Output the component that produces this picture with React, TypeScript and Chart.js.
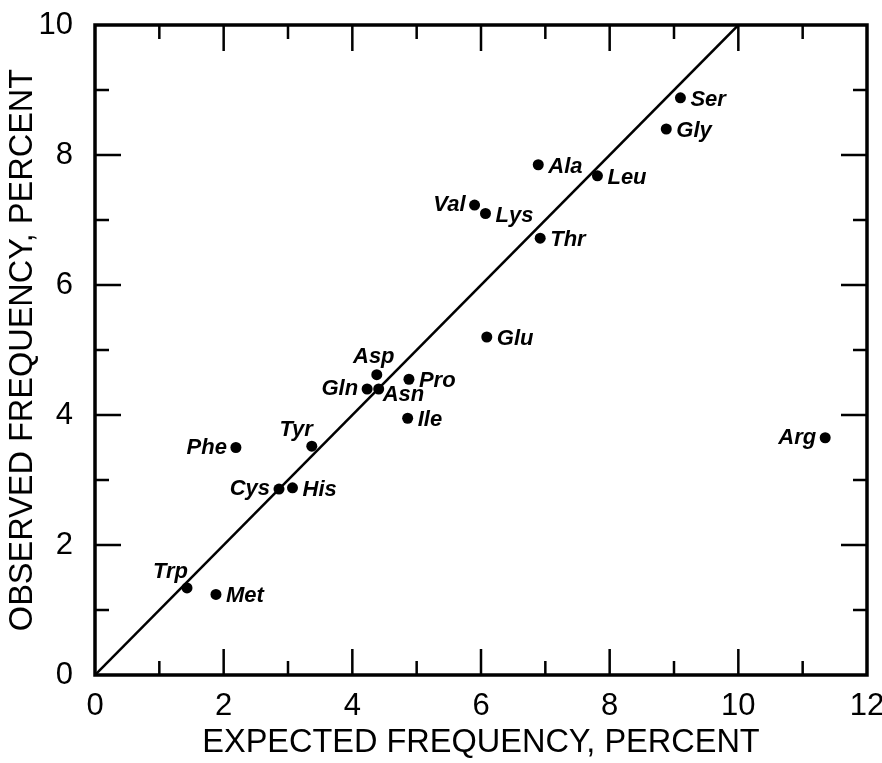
import React, { useEffect, useRef } from "react";
import { Chart, registerables } from "chart.js";

Chart.register(...registerables);

const aminoAcids = ["Ser", "Gly", "Leu", "Ala", "Val", "Lys", "Thr", "Glu", "Asp", "Pro", "Gln", "Asn", "Ile", "Tyr", "Phe", "Cys", "His", "Trp", "Met", "Arg"];
const expectedFreq = [9.1, 8.88, 7.81, 6.89, 5.9, 6.07, 6.92, 6.09, 4.38, 4.88, 4.23, 4.41, 4.86, 3.37, 2.19, 2.86, 3.07, 1.43, 1.88, 11.35];
const observedFreq = [8.88, 8.4, 7.68, 7.85, 7.23, 7.1, 6.72, 5.2, 4.62, 4.55, 4.4, 4.4, 3.95, 3.52, 3.5, 2.86, 2.88, 1.34, 1.24, 3.65];
const labelSide = ["r", "r", "r", "r", "l", "r", "r", "r", "a", "r", "l", "br", "r", "al", "l", "l", "r", "al", "r", "l"];
const identityLine = [0, 10];
const xTicks = [0, 2, 4, 6, 8, 10, 12];
const yTicks = [0, 2, 4, 6, 8, 10];

const framePlugin = {
  id: "frame",
  afterDraw(chart: any) {
    const ctx = chart.ctx;
    const { left, right, top, bottom } = chart.chartArea;
    const xs = chart.scales.x;
    const ys = chart.scales.y;
    ctx.save();
    ctx.strokeStyle = "#000";
    ctx.lineCap = "butt";
    ctx.lineWidth = 2.5;
    for (let v = 1; v < 12; v++) {
      const px = xs.getPixelForValue(v);
      const len = v % 2 === 0 ? 26 : 14;
      ctx.beginPath();
      ctx.moveTo(px, bottom);
      ctx.lineTo(px, bottom - len);
      ctx.moveTo(px, top);
      ctx.lineTo(px, top + len);
      ctx.stroke();
    }
    for (let v = 1; v < 10; v++) {
      const py = ys.getPixelForValue(v);
      const len = v % 2 === 0 ? 26 : 14;
      ctx.beginPath();
      ctx.moveTo(left, py);
      ctx.lineTo(left + len, py);
      ctx.moveTo(right, py);
      ctx.lineTo(right - len, py);
      ctx.stroke();
    }
    ctx.lineWidth = 3.5;
    ctx.lineJoin = "miter";
    ctx.beginPath();
    ctx.moveTo(left, top);
    ctx.lineTo(right, top);
    ctx.lineTo(right, bottom);
    ctx.lineTo(left, bottom);
    ctx.closePath();
    ctx.stroke();
    ctx.restore();
  },
};

const labelPlugin = {
  id: "pointLabels",
  afterDatasetsDraw(chart: any) {
    const ctx = chart.ctx;
    const meta = chart.getDatasetMeta(0);
    ctx.save();
    ctx.fillStyle = "#000";
    ctx.font = "italic bold 22px 'Liberation Sans', Arial, sans-serif";
    ctx.textBaseline = "middle";
    meta.data.forEach((el: any, i: number) => {
      const name = aminoAcids[i];
      const side = labelSide[i];
      const x = el.x;
      const y = el.y;
      if (side === "r") {
        ctx.textAlign = "left";
        ctx.fillText(name, x + 10, y + 2);
      } else if (side === "l") {
        ctx.textAlign = "right";
        ctx.fillText(name, x - 9, y);
      } else if (side === "a") {
        ctx.textAlign = "center";
        ctx.fillText(name, x - 3, y - 18);
      } else if (side === "al") {
        ctx.textAlign = "right";
        ctx.fillText(name, x + 1, y - 16);
      } else if (side === "br") {
        ctx.textAlign = "left";
        ctx.fillText(name, x + 4, y + 6);
      }
    });
    ctx.restore();
  },
};

export default function App() {
  const canvasRef = useRef<HTMLCanvasElement | null>(null);

  useEffect(() => {
    if (!canvasRef.current) return;
    const tickFont = { family: "'Liberation Sans', Arial, sans-serif", size: 31 };
    const titleFont = { family: "'Liberation Sans', Arial, sans-serif", size: 32.5 };
    const chart = new Chart(canvasRef.current, {
      type: "scatter",
      data: {
        datasets: [
          {
            data: expectedFreq.map((x, i) => ({ x, y: observedFreq[i] })),
            backgroundColor: "#000",
            borderColor: "#000",
            pointRadius: 5.5,
            pointHoverRadius: 5.5,
            borderWidth: 0,
          },
          {
            data: identityLine.map((v) => ({ x: v, y: v })),
            showLine: true,
            borderColor: "#000",
            borderWidth: 2.5,
            pointRadius: 0,
            pointHoverRadius: 0,
          },
        ],
      },
      options: {
        animation: false,
        responsive: true,
        maintainAspectRatio: false,
        layout: { padding: { top: 25, right: 15, left: 0, bottom: 0 } },
        plugins: {
          legend: { display: false },
          tooltip: { enabled: false },
        },
        scales: {
          x: {
            type: "linear",
            min: 0,
            max: 12,
            afterBuildTicks: (scale: any) => {
              scale.ticks = xTicks.map((value) => ({ value }));
            },
            afterFit: (scale: any) => {
              scale.height = 88;
              scale.paddingLeft = 0;
              scale.paddingRight = 0;
            },
            grid: { display: false },
            border: { display: false },
            ticks: { font: tickFont, color: "#000", padding: 5, maxRotation: 0, autoSkip: false },
            title: {
              display: true,
              text: "EXPECTED FREQUENCY, PERCENT",
              font: titleFont,
              color: "#000",
              padding: { top: 0, bottom: 0 },
            },
          },
          y: {
            type: "linear",
            min: 0,
            max: 10,
            afterBuildTicks: (scale: any) => {
              scale.ticks = yTicks.map((value) => ({ value }));
            },
            afterFit: (scale: any) => {
              scale.width = 95;
              scale.paddingTop = 0;
              scale.paddingBottom = 0;
            },
            grid: { display: false },
            border: { display: false },
            ticks: { font: tickFont, color: "#000", padding: 14, autoSkip: false },
            title: {
              display: true,
              text: "OBSERVED FREQUENCY, PERCENT",
              font: titleFont,
              color: "#000",
              padding: { top: 4, bottom: 0 },
            },
          },
        },
      } as any,
      plugins: [framePlugin, labelPlugin],
    });
    return () => chart.destroy();
  }, []);

  return (
    <div style={{ position: "fixed", left: 0, top: 0, width: 882, height: 763, background: "#fff" }}>
      <canvas ref={canvasRef} />
    </div>
  );
}
